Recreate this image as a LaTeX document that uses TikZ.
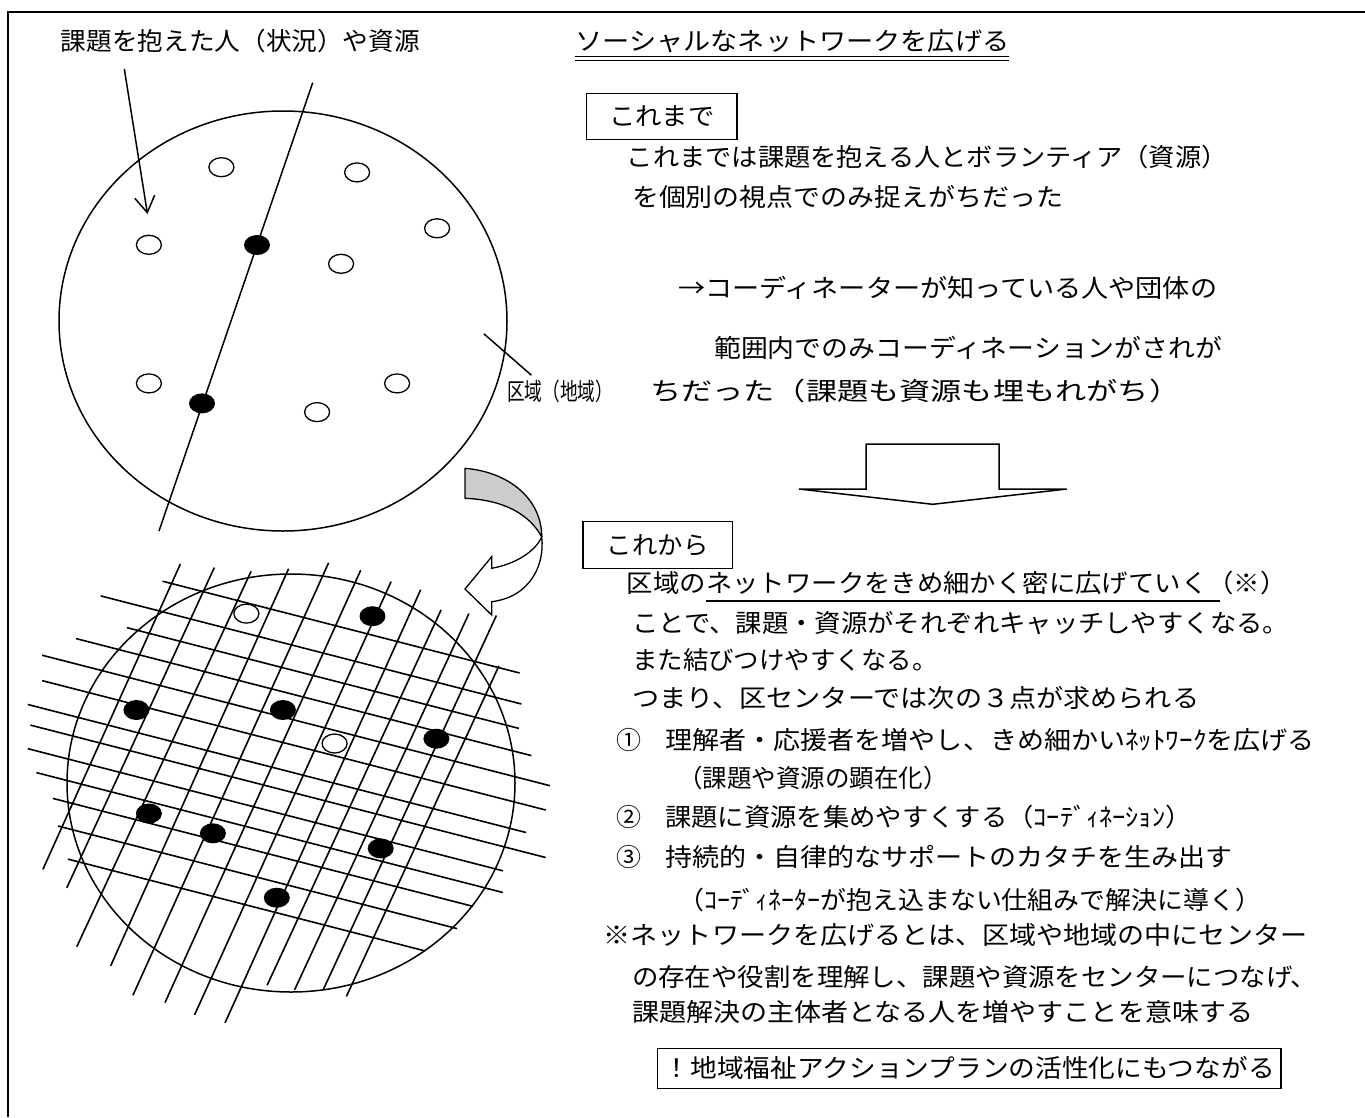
\documentclass[tikz,border=0pt]{standalone}
\usepackage{graphicx}
\usepackage{fontspec}
\setmainfont{Noto Sans CJK JP}
\usetikzlibrary{shapes.geometric,arrows.meta}
\newcommand{\fitw}[2]{\resizebox{#1pt}{\height}{#2}}
\begin{document}
\begin{tikzpicture}[x=1pt,y=-1pt,
  txt/.style={inner sep=0pt, anchor=west, font=\fontsize{25}{29}\selectfont},
  boxt/.style={draw, line width=1.5pt, inner sep=0pt, font=\fontsize{25}{29}\selectfont},
  ln/.style={line width=1.5pt},
  gl/.style={line width=1.6pt},
  odot/.style={draw, fill=white, ellipse, minimum width=25pt, minimum height=19pt, inner sep=0pt, line width=1.3pt},
  fdot/.style={fill=black, ellipse, minimum width=26pt, minimum height=20pt, inner sep=0pt}]
\useasboundingbox (0,0) rectangle (1365,1117);
% frame
\draw[line width=2.5pt] (1365,12) -- (8,12) -- (8,1117);

% ---------- top-left diagram ----------
\node[txt] (t1) at (60.7,40.5) {\fitw{359}{課題を抱えた人（状況）や資源}};
\coordinate (c1) at (283,321);
\draw[ln] (c1) ellipse [x radius=224pt, y radius=210pt];
\coordinate (lt) at (312.7,82.7);
\coordinate (lb) at (159,531);
\draw[ln] (lt) -- (lb);
\coordinate (as) at (124.3,69);
\coordinate (ae) at (147.5,214);
\draw[ln, -{Straight Barb[length=16pt,width=20pt]}] (as) -- (ae);
\node[odot] (o1) at (221.4,167.2) {};
\node[odot] (o2) at (357.1,172.4) {};
\node[odot] (o3) at (437.1,228.3) {};
\node[odot] (o4) at (148.9,244.8) {};
\node[odot] (o5) at (341.1,263.8) {};
\node[odot] (o6) at (148.9,383.4) {};
\node[odot] (o7) at (397.1,383.4) {};
\node[odot] (o8) at (317.1,412.1) {};
\node[fdot] (f1) at (257,245) {};
\node[fdot] (f2) at (202,403.4) {};
\node[txt, font=\fontsize{24}{27}\selectfont] (area) at (507,391) {\fitw{106}{区域（地域）}};
\coordinate (la) at (483.9,333.8);
\coordinate (lc) at (531.4,375.2);
\draw[ln] (la) -- (lc);

% ---------- curved arrow ----------
\draw[line width=1.3pt, fill=black!20, line join=round]
  (465,468.3) .. controls (510,472) and (542,500) .. (541.7,537)
  .. controls (530,515) and (505,500) .. (465,498.3) -- cycle;
\draw[line width=1.3pt, fill=white, line join=miter]
  (541.7,537) .. controls (545,565) and (530,597) .. (491.7,601.7)
  -- (491.7,615) -- (465,589) -- (491.7,556.7) -- (491.7,568.3)
  .. controls (515,564) and (535,552) .. (541.7,537) -- cycle;

% ---------- bottom grid diagram ----------
\coordinate (c2) at (291,783);
\draw[ln] (c2) ellipse [x radius=224pt, y radius=209pt];
% family A
\draw[gl] (162.5,581.2) -- (519.6,673.0);
\draw[gl] (100.7,595.9) -- (521.4,704.0);
\draw[gl] (126.8,627.6) -- (518.9,728.4);
\draw[gl] (76.1,638.6) -- (531.4,755.6);
\draw[gl] (42.1,655.2) -- (550,785.7);
\draw[gl] (42.1,680.6) -- (545.7,810.0);
\draw[gl] (27.9,704.5) -- (526.1,832.5);
\draw[gl] (30.4,725.1) -- (545.7,857.5);
\draw[gl] (27.9,748.7) -- (502.9,870.8);
\draw[gl] (36.4,772.6) -- (502.9,892.5);
\draw[gl] (52.9,798.4) -- (473.2,906.4);
\draw[gl] (57.9,826) -- (457.1,928.6);
\draw[gl] (67.9,859.1) -- (425,950.9);
% family B
\draw[gl] (180.4,563.9) -- (42.9,869.4);
\draw[gl] (214.3,567.6) -- (66.8,887.8);
\draw[gl] (251.1,571.3) -- (76.8,946.7);
\draw[gl] (288.6,568.7) -- (110.7,965.8);
\draw[gl] (328.6,562.8) -- (132.9,995.3);
\draw[gl] (360.7,570.2) -- (165,1002.6);
\draw[gl] (391.1,581.6) -- (194.6,1014.8);
\draw[gl] (420.7,589.7) -- (225,1022.9);
\draw[gl] (441.1,609.9) -- (267.1,985.3);
\draw[gl] (468.9,613.6) -- (294.6,989.8);
\draw[gl] (496.4,615.5) -- (323.2,989.8);
\draw[gl] (498.9,665.9) -- (346.4,996.4);
\node[odot] (g1) at (246.4,613.6) {};
\node[odot] (g2) at (334.6,743.5) {};
\node[fdot] (h1) at (372.5,616.2) {};
\node[fdot] (h2) at (136.4,710) {};
\node[fdot] (h3) at (282.9,710) {};
\node[fdot] (h4) at (436.4,738.7) {};
\node[fdot] (h5) at (148.9,813.5) {};
\node[fdot] (h6) at (212.9,833.3) {};
\node[fdot] (h7) at (380.7,848.4) {};
\node[fdot] (h8) at (276.8,897.7) {};

% ---------- right text ----------
\node[txt] (title) at (575.4,41) {\fitw{433.8}{ソーシャルなネットワークを広げる}};
\draw[line width=1.2pt] (title.south west) ++(0,4) -- ++(433.8,0);
\draw[line width=1.2pt] (title.south west) ++(0,7.5) -- ++(433.8,0);
\node[boxt, minimum width=150.4pt, minimum height=46pt] (kb) at (661.9,116.3) {\fitw{105.3}{これまで}};
\node[txt] (r1) at (626.7,156.7) {\fitw{600.7}{これまでは課題を抱える人とボランティア（資源）}};
\node[txt] (r2) at (631.9,196.7) {\fitw{431}{を個別の視点でのみ捉えがちだった}};
\node[txt] (r3) at (678,288.3) {\fitw{539}{→コーディネーターが知っている人や団体の}};
\node[txt] (r4) at (714,348) {\fitw{508}{範囲内でのみコーディネーションがされが}};
\node[txt] (r5) at (650,390.8) {\fitw{530}{ちだった（課題も資源も埋もれがち）}};

\draw[line width=1.5pt, line join=miter] (799,489) -- (866,489) -- (866,444) -- (999,444) -- (999,489) -- (1066.7,489) -- (932.7,504.3) -- cycle;

\node[boxt, minimum width=149.3pt, minimum height=46.6pt] (nb) at (657.7,545) {\fitw{101.5}{これから}};
\node[txt] (s1) at (626.7,583) {\fitw{659.7}{区域のネットワークをきめ細かく密に広げていく（※）}};
\draw[line width=1.3pt] (706.3,601) -- (1219.6,601);
\node[txt] (s2) at (631.9,623.3) {\fitw{657.1}{ことで、課題・資源がそれぞれキャッチしやすくなる。}};
\node[txt] (s3) at (631.9,660) {\fitw{305.4}{また結びつけやすくなる。}};
\node[txt] (s4) at (631.9,698.3) {\fitw{567.1}{つまり、区センターでは次の３点が求められる}};
\node[txt, anchor=center] (n1) at (629,740) {①};
\node[txt] (s5) at (665.2,740) {\fitw{649.4}{理解者・応援者を増やし、きめ細かいﾈｯﾄﾜｰｸを広げる}};
\node[txt] (s6) at (678,778.3) {\fitw{269.6}{（課題や資源の顕在化）}};
\node[txt, anchor=center] (n2) at (629,816.7) {②};
\node[txt] (s7) at (665,816.7) {\fitw{526.4}{課題に資源を集めやすくする（ｺｰﾃﾞｨﾈｰｼｮﾝ）}};
\node[txt, anchor=center] (n3) at (629,856.7) {③};
\node[txt] (s8) at (665,856.7) {\fitw{567.5}{持続的・自律的なサポートのカタチを生み出す}};
\node[txt] (s9) at (678,900) {\fitw{582.7}{（ｺｰﾃﾞｨﾈｰﾀｰが抱え込まない仕組みで解決に導く）}};
\node[txt] (s10) at (603.6,935) {\fitw{703.4}{※ネットワークを広げるとは、区域や地域の中にセンター}};
\node[txt] (s11) at (631.9,976.7) {\fitw{685.1}{の存在や役割を理解し、課題や資源をセンターにつなげ、}};
\node[txt] (s12) at (631.9,1011.7) {\fitw{621.1}{課題解決の主体者となる人を増やすことを意味する}};
\node[boxt, minimum width=623.5pt, minimum height=40pt] (fb) at (969.3,1068.3) {\fitw{610.9}{！地域福祉アクションプランの活性化にもつながる}};
\end{tikzpicture}
\end{document}
